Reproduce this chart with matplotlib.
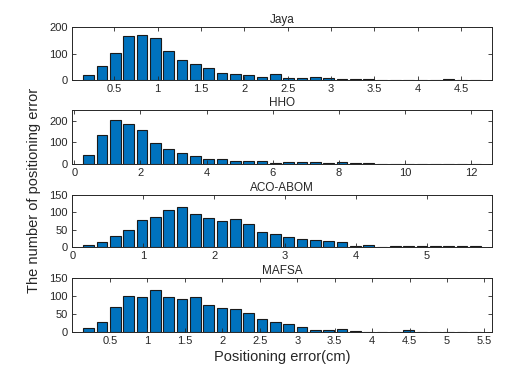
import matplotlib
matplotlib.use('Agg')
import matplotlib.pyplot as plt
import numpy as np

plt.rcParams['font.family'] = ['Liberation Sans', 'DejaVu Sans']

# Histogram counts per bin (30 bins each)
titles = ['Jaya', 'HHO', 'ACO-ABOM', 'MAFSA']

jaya_counts = [20, 54, 101, 167, 170, 160, 110, 77, 61, 44,
               27, 23, 19, 13, 22, 9, 9, 10, 6, 3,
               2, 4, 1, 1, 1, 1, 1, 3, 1, 1]
hho_counts = [43, 135, 206, 184, 159, 98, 71, 50, 38, 22,
              22, 16, 14, 14, 5, 8, 8, 8, 5, 9,
              3, 3, 2, 2, 2, 2, 2, 2, 2, 2]
aco_counts = [7, 15, 33, 48, 77, 86, 108, 116, 96, 85,
              75, 80, 66, 42, 38, 30, 22, 19, 17, 14,
              4, 7, 1, 2, 3, 2, 2, 2, 2, 2]
mafsa_counts = [12, 27, 70, 100, 98, 118, 98, 92, 96, 76,
                66, 64, 53, 36, 27, 23, 14, 6, 6, 9,
                3, 1, 1, 1, 5, 1, 1, 1, 1, 1]

# first bin centre and bin width for each panel
first_centers = [0.205, 0.435, 0.231, 0.216]
bin_widths = [0.1538, 0.403, 0.188, 0.178]

ylims = [200, 250, 150, 150]
yticks = [[0, 100, 200], [0, 100, 200], [0, 50, 100, 150], [0, 50, 100, 150]]
xticks = [np.arange(0.5, 4.51, 0.5), np.arange(0, 12.1, 2),
          np.arange(0, 5.1, 1), np.arange(0.5, 5.51, 0.5)]

all_counts = [jaya_counts, hho_counts, aco_counts, mafsa_counts]

# panel boxes in pixels (top, bottom) of a 532x381 figure
panel_px = [(27, 80), (110, 164), (195, 247), (278, 332)]
W, H = 532, 381
left, right = 72, 492

fig = plt.figure(figsize=(W / 100, H / 100), dpi=100)
tc = '#262626'

for i in range(4):
    top, bot = panel_px[i]
    ax = fig.add_axes([left / W, 1 - bot / H, (right - left) / W, (bot - top) / H])
    counts = all_counts[i]
    w = bin_widths[i]
    c0 = first_centers[i]
    x = c0 + w * np.arange(len(counts))
    ax.bar(x, counts, width=0.8 * w, color='#0072BD', edgecolor='#1a1a1a', linewidth=0.8)
    ax.set_xlim(c0 - 1.25 * w, c0 + 30.25 * w)
    ax.set_ylim(0, ylims[i])
    ax.set_yticks(yticks[i])
    ax.set_xticks(xticks[i])
    ax.set_xticklabels(['%g' % t for t in xticks[i]])
    ax.tick_params(direction='in', top=True, right=True, length=3, width=0.6,
                   labelsize=8, colors=tc, pad=3)
    for s in ax.spines.values():
        s.set_linewidth(0.7)
        s.set_color(tc)
    ax.set_title(titles[i], fontsize=8.5, color=tc, pad=3)

fig.text(0.064, 0.5, 'The number of positioning error', rotation=90,
         ha='center', va='center', fontsize=10.5, color=tc)
fig.text(0.53, 0.063, 'Positioning error(cm)', ha='center', va='center',
         fontsize=10.5, color=tc)

fig.savefig('out.png', dpi=100)
